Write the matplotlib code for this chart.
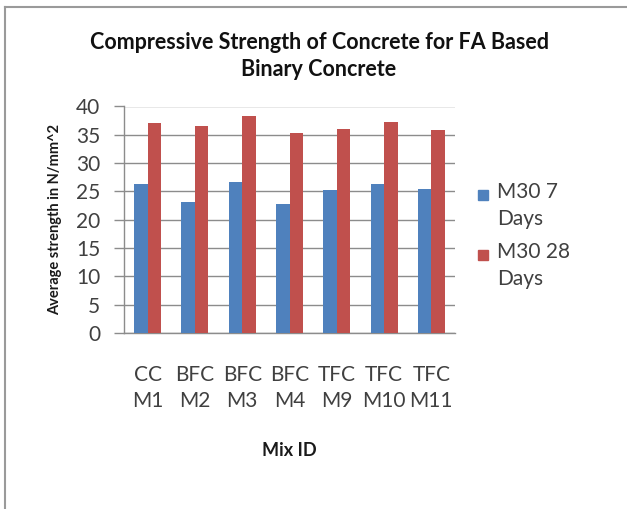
import numpy as np
import matplotlib.pyplot as plt
from matplotlib.lines import Line2D
from matplotlib.patches import Rectangle

plt.rcParams['font.family'] = ['Lato', 'DejaVu Sans']

mix_ids = ["CC\nM1", "BFC\nM2", "BFC\nM3", "BFC\nM4", "TFC\nM9", "TFC\nM10", "TFC\nM11"]
series_names = ["M30 7\nDays", "M30 28\nDays"]
strength_7 = [26.3, 23.2, 26.6, 22.8, 25.3, 26.4, 25.4]
strength_28 = [37.0, 36.6, 38.4, 35.4, 36.0, 37.2, 35.9]
y_ticks = list(range(0, 41, 5))

blue = "#4F81BD"
red = "#C0504D"
grid_col = "#8C8C8C"
text_col = "#404040"

fig = plt.figure(figsize=(6.27, 5.09), dpi=100)
ax = fig.add_axes([124 / 627, 1 - 333 / 509, (455 - 124) / 627, (333 - 106.5) / 509])

x = np.arange(len(mix_ids))
w = 0.286
ax.bar(x - w / 2, strength_7, width=w, color=blue, zorder=3)
ax.bar(x + w / 2, strength_28, width=w, color=red, zorder=3)

ax.set_xlim(-0.5, len(mix_ids) - 0.5)
ax.set_ylim(0, 40)
ax.set_yticks(y_ticks)
ax.set_xticks(x)
ax.set_xticklabels(mix_ids, fontsize=15, color=text_col, linespacing=1.35)
ax.tick_params(axis='x', length=0, pad=23)
ax.tick_params(axis='y', length=7, width=1, color=grid_col, labelsize=15,
               labelcolor=text_col, pad=10)
ax.yaxis.grid(True, color=grid_col, linewidth=1, zorder=0)
for side in ["top", "right"]:
    ax.spines[side].set_visible(False)
for side in ["left", "bottom"]:
    ax.spines[side].set_color(grid_col)
    ax.spines[side].set_linewidth(1)

ax.set_ylabel("Average strength in N/mm^2", fontsize=10.5, fontweight='bold',
              color="#1a1a1a", labelpad=10)
ax.set_xlabel("Mix ID", fontsize=13, fontweight='bold', color="#1a1a1a", labelpad=23)

fig.text(319 / 627, 1 - 56 / 509,
         "Compressive Strength of Concrete for FA Based\nBinary Concrete",
         ha='center', va='center', fontsize=15.5, fontweight='bold',
         color="#111111", linespacing=1.35)

# legend built by hand so the swatch sits next to the first line
for i, (name, col) in enumerate(zip(series_names, [blue, red])):
    ytop = 1 - (190 + 60 * i) / 509
    fig.patches.append(Rectangle((478 / 627, ytop - 10 / 509), 10 / 627, 10 / 509,
                                 transform=fig.transFigure, color=col))
    fig.text(497 / 627, ytop + 8 / 509, name, ha='left', va='top', fontsize=15,
             color=text_col, linespacing=1.42)

# frame lines around the chart area
fig.add_artist(Line2D([5 / 627, 5 / 627], [0, 1 - 7 / 509], color="#9a9a9a", lw=1.5))
fig.add_artist(Line2D([5 / 627, 1], [1 - 7 / 509, 1 - 7 / 509], color="#9a9a9a", lw=1.5))

fig.savefig("out.png", dpi=100)
